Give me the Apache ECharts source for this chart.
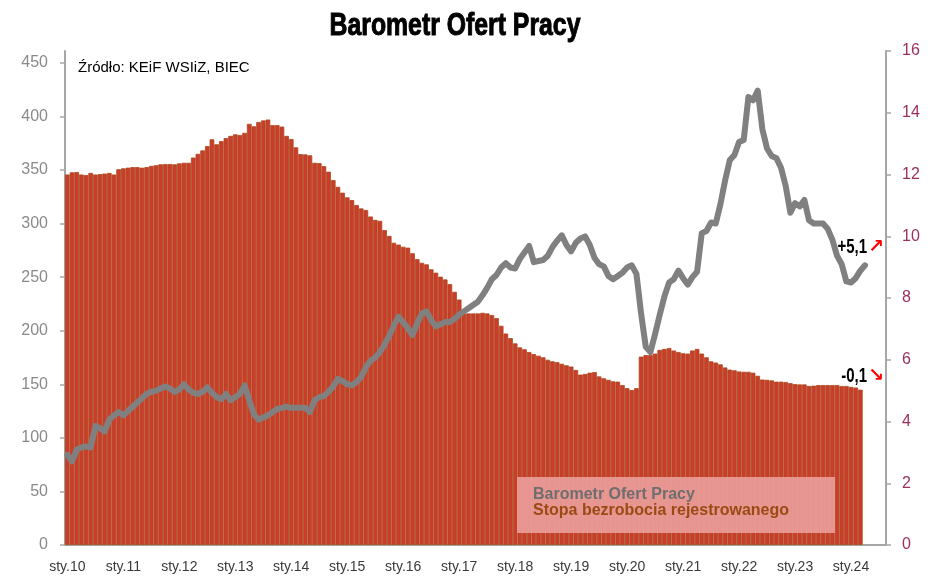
<!DOCTYPE html>
<html><head><meta charset="utf-8">
<script src="https://cdn.jsdelivr.net/npm/echarts@6/dist/echarts.min.js"></script>
<style>html,body{margin:0;padding:0;background:#fff}#c{width:930px;height:588px}</style>
</head><body><div id="c"></div>
<script>
const SANS = "'Liberation Sans', Arial, sans-serif";
const titleText = 'Barometr Ofert Pracy';
const sourceText = 'Źródło: KEiF WSIiZ, BIEC';
const seriesNames = ['Barometr Ofert Pracy', 'Stopa bezrobocia rejestrowanego'];
const yearLabels = ['sty.10','sty.11','sty.12','sty.13','sty.14','sty.15','sty.16','sty.17','sty.18','sty.19','sty.20','sty.21','sty.22','sty.23','sty.24'];
const leftTicks = [0,50,100,150,200,250,300,350,400,450];
const notes = ['+5,1', '-0,1'];
// monthly categories Jan 2010 .. Aug 2024
const months = [];
for (let y = 2010; y <= 2024; y++) for (let m = 1; m <= 12; m++) { if (months.length < 176) months.push(y + '-' + String(m).padStart(2,'0')); }

// Barometr Ofert Pracy (left axis), 2010-01 .. 2024-04
const barometr = [
 84,78,89,91,92,91,111,109,106,117,121,124,
 121,125,129,133,137,141,143,144,146,148,146,143,
 145,150,145,142,141,143,147,142,138,136,141,135,
 138,141,149,135,122,117,119,121,124,127,128,129,
 128,128,128,128,124,135,138,139,143,148,155,153,
 150,149,152,157,166,172,175,180,187,195,205,213,
 208,202,196,207,216,218,210,204,206,208,208,211,
 215,218,221,224,227,233,240,248,252,259,263,259,
 258,267,273,279,264,265,266,270,278,284,289,280,
 274,282,286,288,280,268,262,260,251,248,251,254,
 259,261,253,216,185,180,197,215,232,245,248,256,
 249,243,250,255,291,293,301,300,318,340,359,364,
 376,378,418,415,424,388,370,363,361,352,335,310,
 319,316,322,303,300,300,300,295,285,270,262,246,
 245,249,256,261
];
// Stopa bezrobocia rejestrowanego (right axis, %), 2010-01 .. 2024-03
const stopa = [
 12.0,12.07,12.08,12.0,11.98,12.05,12.0,12.01,12.03,12.05,12.0,12.17,
 12.2,12.22,12.24,12.24,12.22,12.24,12.28,12.3,12.33,12.34,12.34,12.33,
 12.36,12.38,12.38,12.55,12.67,12.78,12.92,13.14,12.98,13.08,13.18,13.25,
 13.3,13.28,13.35,13.64,13.56,13.7,13.75,13.78,13.6,13.6,13.55,13.25,
 13.15,12.88,12.66,12.65,12.62,12.38,12.37,12.27,12.09,11.82,11.6,11.41,
 11.26,11.17,11.01,10.9,10.85,10.64,10.53,10.5,10.2,10.01,9.79,9.73,
 9.66,9.63,9.45,9.26,9.14,9.09,8.93,8.82,8.69,8.6,8.45,8.2,
 7.95,7.5,7.5,7.5,7.5,7.52,7.5,7.45,7.35,7.1,6.85,6.7,
 6.53,6.4,6.34,6.25,6.18,6.13,6.08,6.0,5.95,5.92,5.87,5.82,
 5.78,5.67,5.52,5.54,5.58,5.6,5.46,5.4,5.35,5.3,5.29,5.18,
 5.08,5.02,5.08,6.1,6.15,6.15,6.2,6.32,6.35,6.38,6.3,6.25,
 6.21,6.2,6.3,6.35,6.2,6.08,5.95,5.91,5.85,5.75,5.68,5.66,
 5.62,5.61,5.61,5.58,5.48,5.36,5.35,5.33,5.29,5.29,5.28,5.24,
 5.21,5.2,5.2,5.15,5.16,5.18,5.18,5.18,5.18,5.18,5.15,5.15,
 5.12,5.1,5.03
];

const chart = echarts.init(document.getElementById('c'), null, {renderer:'canvas'});
const axisGrey = '#a6a6a6';
chart.setOption({
  animation: false,
  backgroundColor: '#ffffff',
  grid: {left: 65, right: 44, top: 51, bottom: 43},
  legend: {
    left: 517, top: 477, orient: 'vertical', selectedMode: false,
    backgroundColor: 'rgba(236,160,158,0.88)',
    padding: [10, 46, 14, 10], itemGap: 0, itemWidth: 0, itemHeight: 0, icon: 'rect',
    textStyle: {fontFamily: SANS, fontSize: 16, fontWeight: 'bold', lineHeight: 16},
    data: [
      {name: seriesNames[0], textStyle: {color: '#6e6e6e'}},
      {name: seriesNames[1], textStyle: {color: '#9a4a12'}}
    ]
  },
  xAxis: {
    type: 'category', data: months, boundaryGap: true,
    axisLine: {lineStyle: {color: axisGrey, width: 2}},
    axisTick: {interval: (i) => i % 12 === 0, length: 5, lineStyle: {color: axisGrey, width: 1.5}},
    axisLabel: {
      interval: (i) => i % 12 === 0,
      formatter: (v, i) => yearLabels[Math.floor(i / 12)] || '',
      fontFamily: SANS, fontSize: 14, color: '#3a3a3a', margin: 15
    }
  },
  yAxis: [
    {
      type: 'value', min: 0, max: 461, interval: 50, position: 'left',
      splitLine: {show: false},
      axisLine: {show: true, lineStyle: {color: axisGrey, width: 2}},
      axisTick: {show: true, length: 5, customValues: leftTicks, lineStyle: {color: axisGrey, width: 1.5}},
      axisLabel: {customValues: leftTicks, fontFamily: SANS, fontSize: 16, color: '#8a8a8a', margin: 17}
    },
    {
      type: 'value', min: 0, max: 16, interval: 2, position: 'right',
      splitLine: {show: false},
      axisLine: {show: true, lineStyle: {color: axisGrey, width: 2}},
      axisTick: {show: true, length: 5, lineStyle: {color: axisGrey, width: 1.5}},
      axisLabel: {fontFamily: SANS, fontSize: 16, color: '#9b2f5e', margin: 16}
    }
  ],
  series: [
    {
      name: seriesNames[1], type: 'bar', yAxisIndex: 1, data: stopa,
      barCategoryGap: '0%', z: 2,
      itemStyle: {color: '#cc3c2b', borderColor: '#a8491c', borderWidth: 0.8}
    },
    {
      name: seriesNames[0], type: 'line', yAxisIndex: 0, data: barometr,
      showSymbol: false, symbol: 'none', z: 3,
      lineStyle: {color: '#808080', width: 6, cap: 'round', join: 'round'},
      itemStyle: {color: '#808080'}
    }
  ],
  graphic: [
    {type: 'text', x: 455, y: 26, scaleX: 0.8, style: {text: titleText, font: "bold 31px " + SANS, fill: '#000', stroke: '#000', lineWidth: 1, align: 'center', verticalAlign: 'middle'}},
    {type: 'text', x: 78, y: 68, style: {text: sourceText, font: "15px " + SANS, fill: '#000', verticalAlign: 'middle'}},
    {type: 'text', x: 867, y: 247, scaleX: 0.75, style: {text: notes[0], font: "bold 20px " + SANS, fill: '#000', align: 'right', verticalAlign: 'middle'}},
    {type: 'text', x: 868, y: 247, style: {text: '↗', font: "bold 19px 'DejaVu Sans', sans-serif", fill: '#ff0000', align: 'left', verticalAlign: 'middle'}},
    {type: 'text', x: 867, y: 376, scaleX: 0.75, style: {text: notes[1], font: "bold 20px " + SANS, fill: '#000', align: 'right', verticalAlign: 'middle'}},
    {type: 'text', x: 868, y: 376, style: {text: '↘', font: "bold 19px 'DejaVu Sans', sans-serif", fill: '#ff0000', align: 'left', verticalAlign: 'middle'}}
  ]
});
</script></body></html>
